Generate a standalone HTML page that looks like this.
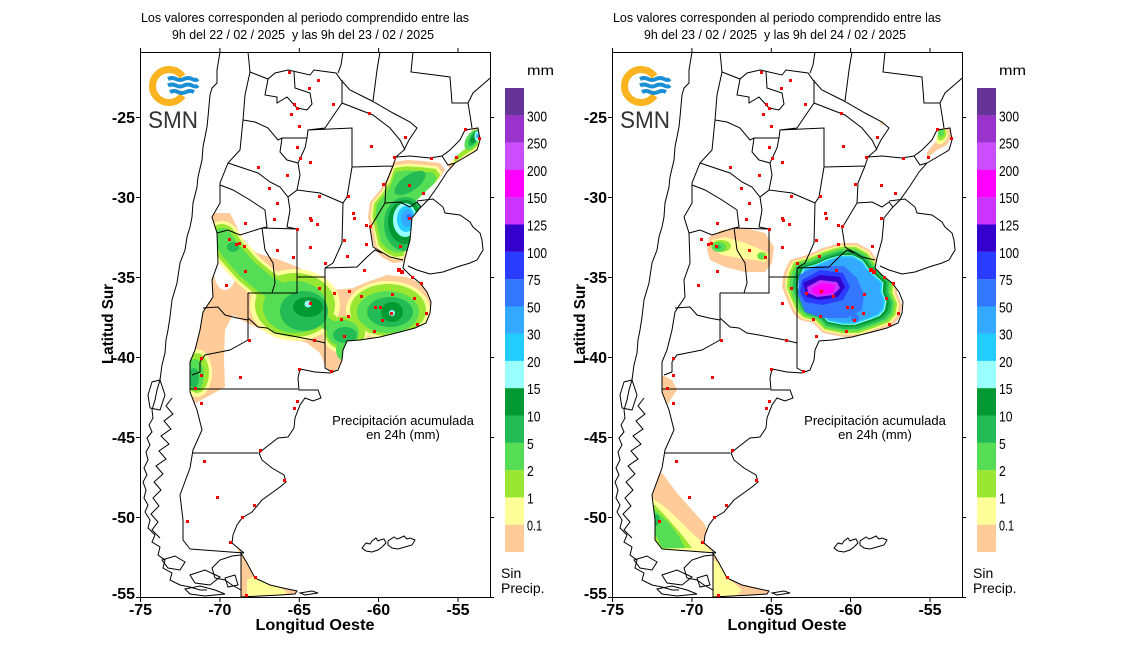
<!DOCTYPE html>
<html><head><meta charset="utf-8"><style>
html,body{margin:0;padding:0;background:#fff;}
svg{display:block;}
text{font-family:"Liberation Sans",Arial,sans-serif;}
</style></head><body>
<svg xmlns="http://www.w3.org/2000/svg" xmlns:xlink="http://www.w3.org/1999/xlink" width="1140" height="650" viewBox="0 0 1140 650">
<defs>
<clipPath id="arg">
<path d="M250,72 L268,79 275,73 288,70 297,72 310,75 314,70 336,73 341,80 350,90 372,101 393,113 410,122 417,128 409,140 404,150 396,157 410,156 430,158 442,156 450,150 460,140 465,130 478,128 480,140 477,150 467,156 455,163 447,172 438,186 428,200 420,208 412,218 410,240 405,258 403,268 410,275 420,283 427,292 431,302 430,313 426,323 415,328 400,332 380,337 360,340 347,341 343,350 342,360 338,370 330,373 315,372 300,369 298,378 299,390 310,390 318,390 321,398 313,401 305,398 300,405 295,418 294,428 288,437 278,438 265,448 259,453 262,460 272,468 284,475 286,482 280,487 262,500 257,506 252,512 242,518 237,525 233,535 232,543 238,548 244,553 190,549 183,540 183,520 180,495 190,468 193,450 202,430 197,410 190,392 190,362 195,350 200,330 203,312 213,297 212,280 218,263 217,233 212,217 220,203 220,183 228,163 240,150 243,120 245,95 Z M241,553 L247,563 255,578 270,585 283,588 297,591 295,594 280,595 260,596 241,597 Z"/>
</clipPath>
<polygon id="pNE" points="393,162 407,160 423,161 440,163 445,170 440,178 430,187 420,197 413,203 412,217 410,237 407,250 403,262 393,263 383,258 375,250 372,237 368,217 370,202 380,190 388,177"/>
<polygon id="pMis" points="448,165 455,158 465,150 470,140 472,128 480,127 482,145 475,152 462,160 450,170"/>
<polygon id="pBA" points="313,270 318,260 335,255 351,248 368,243 385,243 398,250 405,260 415,270 426,280 425,293 430,305 428,317 421,325 408,330 388,337 371,337 351,333 341,323 328,320 321,313 315,300 310,287 311,277"/>
<path id="corr" d="M222,238 L232,252 L248,270 L266,285 L290,298" fill="none" stroke-linecap="round" stroke-linejoin="round"/>

<g id="base">
<g fill="none" stroke="#000" stroke-width="1">
<path d="M250,72 L268,79 275,73 288,70 297,72 310,75 314,70 336,73 341,80 350,90 372,101 393,113 410,122 417,128 409,140 404,150 396,157 410,156 430,158 442,156 450,150 460,140 465,130 478,128 480,140 477,150 467,156 455,163 447,172 438,186 428,200 420,208 412,218 410,240 405,258 403,268 410,275 420,283 427,292 431,302 430,313 426,323 415,328 400,332 380,337 360,340 347,341 343,350 342,360 338,370 330,373 315,372 300,369 298,378 299,390 310,390 318,390 321,398 313,401 305,398 300,405 295,418 294,428 288,437 278,438 265,448 259,453 262,460 272,468 284,475 286,482 280,487 262,500 257,506 252,512 242,518 237,525 233,535 232,543 238,548 244,553 M190,549 L183,540 183,520 180,495 190,468 193,450 202,430 197,410 190,392 190,362 195,350 200,330 203,312 213,297 212,280 218,263 217,233 212,217 220,203 220,183 228,163 240,150 243,120 245,95 250,72 M244,553 L190,549 M241,553 L247,563 255,578 270,585 283,588 297,591 295,594 280,595 260,596 241,597 Z"/>
<path d="M268,79 L265,95 277,97 277,103 287,97 297,108 307,110 312,104 310,93 295,88 294,72 M243,120 L255,122 268,128 278,140 282,138 307,138 308,130 325,128 342,103 342,80 M308,130 L352,128 352,167 M282,138 L280,152 287,160 298,163 305,148 307,138 M298,163 L300,175 297,190 320,193 343,203 M342,103 L373,115 390,128 400,140 405,150 M352,167 L393,166 M352,167 L347,197 343,203 342,243 333,263 325,268 M396,157 L393,166 386,183 385,203 373,223 370,228 373,247 390,257 403,260 M385,203 L400,202 410,207 417,202 421,207 M442,156 L448,165 455,163 M325,268 L357,267 367,257 375,250 382,253 M228,163 L243,168 258,173 270,182 280,187 288,197 297,190 M288,197 L290,210 287,227 297,229 M220,185 L233,190 250,200 265,210 267,227 262,228 M217,233 L228,230 240,235 262,228 297,229 297,293 248,293 M262,228 L265,250 273,263 275,283 272,293 M297,277 L325,277 M325,268 L325,368 332,372 M248,293 L248,340 M203,308 L218,307 225,315 237,318 248,320 M248,318 L258,327 267,328 275,333 287,335 313,340 325,343 M248,340 L230,350 220,352 205,355 200,362 200,372 192,375 M190,389 L298,389 M193,453 L258,453 M241,553 L241,597"/>
<path d="M248,52 L250,72 M343,52 L341,65 338,73 M380,52 L377,70 373,101 M413,52 L411,72 427,74 450,77 452,103 468,103 473,93 488,80 490,78 M468,103 L470,115 472,128 M417,201 L433,199 443,207 445,213 460,215 470,222 473,227 480,233 482,240 483,250 477,260 470,263 457,267 443,272 430,274 417,270 408,266"/>
<path d="M220,52 L217,70 217,83 212,88 210,95 208,117 207,127 203,147 202,160 198,177 197,187 193,203 192,217 190,227 187,237 185,250 180,263 177,283 172,300 170,317 168,330 166,340 165,353 162,365 160,380 157,390 155,400 152,410 153,418 149,425 152,432 147,438 150,445 146,452 148,460 144,468 147,475 143,482 146,490 144,498 148,505 145,512 150,520 148,528 155,535 152,542 160,547 158,555 165,560 163,568 172,573 170,580 180,585 190,587 200,590 207,590"/>
<path d="M172,398 L166,406 173,414 164,421 171,429 161,436 169,444 159,451 166,459 156,466 163,474 154,482 161,490 153,498 159,506 151,514 158,522 152,530 160,538 M152,382 L160,380 165,395 160,410 150,408 148,395 Z M162,560 L175,556 185,562 180,570 168,568 Z M190,575 L205,570 220,577 210,585 195,583 Z M185,589 L200,586 215,590 225,594 205,596 190,594 Z M225,578 L235,575 238,585 228,587 Z M241,555 L232,556 220,560 212,568 215,578 225,580 232,585 241,590 M300,593 L312,591 318,593 305,595 Z"/>
<path d="M362,548 L366,543 370,544 372,541 376,538 378,541 380,540 384,539 386,543 382,547 378,550 372,552 366,551 Z M388,541 L394,537 397,539 400,538 404,536 407,539 410,538 415,540 412,545 405,547 398,549 392,548 388,545 Z"/>
</g>
<path fill="#f00" d="M288,71h3v3h-3z M317,79h3v3h-3z M308,87h3v3h-3z M293,103h3v3h-3z M296,107h3v3h-3z M332,103h3v3h-3z M290,113h3v3h-3z M298,125h3v3h-3z M368,112h3v3h-3z M404,136h3v3h-3z M370,145h3v3h-3z M296,146h3v3h-3z M393,156h3v3h-3z M430,157h3v3h-3z M455,156h3v3h-3z M464,128h3v3h-3z M478,137h3v3h-3z M299,157h3v3h-3z M309,161h3v3h-3z M257,166h3v3h-3z M286,174h3v3h-3z M268,187h3v3h-3z M276,202h3v3h-3z M318,195h3v3h-3z M347,195h3v3h-3z M382,183h3v3h-3z M408,184h3v3h-3z M422,192h3v3h-3z M352,212h3v3h-3z M353,217h3v3h-3z M309,217h3v3h-3z M310,219h3v3h-3z M316,223h3v3h-3z M273,218h3v3h-3z M244,222h3v3h-3z M296,228h3v3h-3z M369,225h3v3h-3z M365,224h3v3h-3z M408,217h3v3h-3z M235,243h3v3h-3z M238,242h3v3h-3z M228,238h3v3h-3z M243,245h3v3h-3z M276,249h3v3h-3z M309,246h3v3h-3z M343,239h3v3h-3z M365,243h3v3h-3z M399,245h3v3h-3z M292,256h3v3h-3z M324,262h3v3h-3z M346,255h3v3h-3z M363,269h3v3h-3z M397,268h4v4h-4z M400,270h4v4h-4z M411,276h3v3h-3z M420,282h3v3h-3z M244,270h3v3h-3z M225,284h3v3h-3z M318,287h3v3h-3z M333,292h3v3h-3z M348,290h3v3h-3z M360,295h3v3h-3z M391,293h3v3h-3z M413,297h3v3h-3z M309,302h3v3h-3z M374,306h3v3h-3z M379,306h3v3h-3z M390,312h3v3h-3z M381,319h3v3h-3z M340,318h3v3h-3z M347,315h3v3h-3z M425,312h3v3h-3z M416,323h3v3h-3z M373,330h3v3h-3z M343,335h3v3h-3z M313,339h3v3h-3z M248,339h3v3h-3z M200,357h3v3h-3z M200,374h3v3h-3z M194,387h3v3h-3z M200,402h3v3h-3z M239,376h3v3h-3z M298,368h3v3h-3z M330,370h3v3h-3z M296,400h3v3h-3z M293,407h3v3h-3z M259,449h3v3h-3z M203,460h3v3h-3z M283,479h3v3h-3z M216,496h3v3h-3z M253,504h3v3h-3z M241,516h3v3h-3z M186,520h3v3h-3z M229,541h3v3h-3z M254,576h3v3h-3z M245,594h3v3h-3z"/>
</g>

<g id="panel">
<rect x="140.5" y="52.5" width="350" height="545" fill="none" stroke="#000" stroke-width="1"/>
<path stroke="#000" stroke-width="1" fill="none" d="M136,117.5h4 M136,197.5h4 M136,277.5h4 M136,357.5h4 M136,437.5h4 M136,517.5h4 M136,597.5h4 M490,117.5h4 M490,197.5h4 M490,277.5h4 M490,357.5h4 M490,437.5h4 M490,517.5h4 M490,597.5h4 M140.5,597v5 M219.9,597v5 M299.3,597v5 M378.6,597v5 M458,597v5 M140.5,48v5 M219.9,48v5 M299.3,48v5 M378.6,48v5 M458,48v5"/>
<g font-size="16" font-weight="bold" fill="#000" text-anchor="end">
<text x="135" y="123">-25</text><text x="135" y="203">-30</text><text x="135" y="283">-35</text><text x="135" y="363">-40</text><text x="135" y="443">-45</text><text x="135" y="523">-50</text><text x="135" y="599">-55</text>
</g>
<g font-size="16" font-weight="bold" fill="#000" text-anchor="middle">
<text x="140.5" y="615">-75</text><text x="219.9" y="615">-70</text><text x="299.3" y="615">-65</text><text x="378.6" y="615">-60</text><text x="458" y="615">-55</text>
<text x="315" y="630" textLength="119" lengthAdjust="spacingAndGlyphs">Longitud Oeste</text>
<text transform="translate(113,324) rotate(-90)" textLength="80" lengthAdjust="spacingAndGlyphs">Latitud Sur</text>
</g>
<g font-size="13" fill="#000" text-anchor="middle">
<text x="403" y="425">Precipitación acumulada</text>
<text x="403" y="439">en 24h (mm)</text>
</g>
<path d="M182.5,76.5 A16.5 16.5 0 1 0 182.5,95.5" fill="none" stroke="#fbb320" stroke-width="7"/>
<g fill="none" stroke="#1a8fd4" stroke-width="4">
<path d="M168,79 q4,-2 8,0 t8,0 t8,0 t6,0"/>
<path d="M168,85.5 q4,-2 8,0 t8,0 t8,0 t6,0"/>
<path d="M170,92 q4,-2 8,0 t8,0 t8,0"/>
</g>
<text x="148" y="128" font-size="24" fill="#333" textLength="50" lengthAdjust="spacingAndGlyphs">SMN</text>
<g>
<rect x="505" y="88" width="19" height="27.4" fill="#663399"/>
<rect x="505" y="115.3" width="19" height="27.4" fill="#9933cc"/>
<rect x="505" y="142.6" width="19" height="27.4" fill="#cc4dff"/>
<rect x="505" y="169.9" width="19" height="27.4" fill="#ff00ff"/>
<rect x="505" y="197.2" width="19" height="27.4" fill="#cc33ff"/>
<rect x="505" y="224.5" width="19" height="27.4" fill="#3300cc"/>
<rect x="505" y="251.8" width="19" height="27.4" fill="#2a3cff"/>
<rect x="505" y="279.1" width="19" height="27.4" fill="#3377ff"/>
<rect x="505" y="306.4" width="19" height="27.4" fill="#33aaff"/>
<rect x="505" y="333.6" width="19" height="27.4" fill="#22ccff"/>
<rect x="505" y="360.9" width="19" height="27.4" fill="#99ffff"/>
<rect x="505" y="388.2" width="19" height="27.4" fill="#009933"/>
<rect x="505" y="415.5" width="19" height="27.4" fill="#22bb55"/>
<rect x="505" y="442.8" width="19" height="27.4" fill="#55dd55"/>
<rect x="505" y="470.1" width="19" height="27.4" fill="#99e633"/>
<rect x="505" y="497.4" width="19" height="27.4" fill="#ffff99"/>
<rect x="505" y="524.7" width="19" height="27.3" fill="#ffcc99"/>
</g>
<g font-size="15" fill="#000">
<text x="527" y="75" font-size="14" textLength="27" lengthAdjust="spacingAndGlyphs">mm</text>
<text x="527" y="121.3" textLength="20" lengthAdjust="spacingAndGlyphs">300</text>
<text x="527" y="148.6" textLength="20" lengthAdjust="spacingAndGlyphs">250</text>
<text x="527" y="175.9" textLength="20" lengthAdjust="spacingAndGlyphs">200</text>
<text x="527" y="203.2" textLength="20" lengthAdjust="spacingAndGlyphs">150</text>
<text x="527" y="230.5" textLength="20" lengthAdjust="spacingAndGlyphs">125</text>
<text x="527" y="257.8" textLength="20" lengthAdjust="spacingAndGlyphs">100</text>
<text x="527" y="285.1" textLength="13.5" lengthAdjust="spacingAndGlyphs">75</text>
<text x="527" y="312.4" textLength="13.5" lengthAdjust="spacingAndGlyphs">50</text>
<text x="527" y="339.6" textLength="13.5" lengthAdjust="spacingAndGlyphs">30</text>
<text x="527" y="366.9" textLength="13.5" lengthAdjust="spacingAndGlyphs">20</text>
<text x="527" y="394.2" textLength="13.5" lengthAdjust="spacingAndGlyphs">15</text>
<text x="527" y="421.5" textLength="13.5" lengthAdjust="spacingAndGlyphs">10</text>
<text x="527" y="448.8" textLength="6.7" lengthAdjust="spacingAndGlyphs">5</text>
<text x="527" y="476.1" textLength="6.7" lengthAdjust="spacingAndGlyphs">2</text>
<text x="527" y="503.4" textLength="6.7" lengthAdjust="spacingAndGlyphs">1</text>
<text x="527" y="530.7" textLength="15" lengthAdjust="spacingAndGlyphs">0.1</text>
<text x="501" y="578" font-size="14">Sin</text>
<text x="501" y="593" font-size="14">Precip.</text>
</g>
</g>
</defs>

<!-- Titles -->
<g font-size="12.5" fill="#000" text-anchor="middle">
<text x="305" y="22" textLength="328" lengthAdjust="spacingAndGlyphs">Los valores corresponden al periodo comprendido entre las</text>
<text x="303" y="39" textLength="262" lengthAdjust="spacingAndGlyphs">9h del 22 / 02 / 2025 &#160;y las 9h del 23 / 02 / 2025</text>
<text x="777" y="22" textLength="328" lengthAdjust="spacingAndGlyphs">Los valores corresponden al periodo comprendido entre las</text>
<text x="775" y="39" textLength="262" lengthAdjust="spacingAndGlyphs">9h del 23 / 02 / 2025 &#160;y las 9h del 24 / 02 / 2025</text>
</g>

<!-- LEFT PANEL BLOBS -->
<g clip-path="url(#arg)">
<g fill="#ffcc99">
<polygon points="213,213 230,213 237,227 242,243 257,253 280,260 300,268 310,280 320,288 333,290 353,288 367,282 387,275 407,277 420,283 430,297 433,313 427,327 413,333 387,337 360,340 347,350 343,363 333,373 327,370 320,353 307,343 287,337 267,332 247,323 233,315 225,330 224,360 225,387 207,397 188,407 185,395 190,360 195,345 200,310 210,283 212,260 211,235"/>
<use href="#pNE"/>
<use href="#pMis"/>
<rect x="238" y="548" width="62" height="50"/>
</g>
<g fill="#fff">
<ellipse cx="225" cy="272" rx="11" ry="18"/>
<ellipse cx="380" cy="331" rx="9" ry="6"/>
</g>
<g fill="#ffff99">
<use href="#corr" stroke="#ffff99" stroke-width="34"/>
<ellipse cx="295" cy="305" rx="45" ry="36"/>
<ellipse cx="388" cy="310" rx="42" ry="29"/>
<ellipse cx="345" cy="335" rx="22" ry="19"/>
<use href="#pNE" transform="translate(405 212) scale(0.93) translate(-405 -212)"/>
<use href="#pMis" transform="translate(467 145) scale(0.85) translate(-467 -145)"/>
<ellipse cx="197" cy="373" rx="15" ry="24"/>
<polygon points="247,580 257,575 267,580 287,592 282,598 247,598"/>
</g>
<g fill="#99e633">
<use href="#corr" stroke="#99e633" stroke-width="28"/>
<ellipse cx="295" cy="305" rx="40" ry="32"/>
<ellipse cx="388" cy="310" rx="38" ry="26"/>
<ellipse cx="345" cy="333" rx="20" ry="17"/>
<path d="M325,318 L343,335" stroke="#99e633" stroke-width="18"/>
<use href="#pNE" transform="translate(405 212) scale(0.88) translate(-405 -212)"/>
<use href="#pMis" transform="translate(469 143) scale(0.72) translate(-469 -143)"/>
<ellipse cx="197" cy="373" rx="12" ry="20"/>
</g>
<g fill="#55dd55">
<use href="#corr" stroke="#55dd55" stroke-width="20"/>
<ellipse cx="295" cy="307" rx="32" ry="26"/>
<ellipse cx="388" cy="312" rx="31" ry="21"/>
<ellipse cx="343" cy="333" rx="16" ry="13"/>
<ellipse cx="343" cy="350" rx="7" ry="10"/>
<path d="M322,320 L340,333" stroke="#55dd55" stroke-width="12"/>
<use href="#pNE" transform="translate(405 212) scale(0.8) translate(-405 -212)"/>
<ellipse cx="472" cy="140" rx="6" ry="11" transform="rotate(30 472 140)"/>
<ellipse cx="195" cy="375" rx="9" ry="16"/>
</g>
<g fill="#22bb55">
<ellipse cx="304" cy="311" rx="24" ry="20"/>
<ellipse cx="390" cy="312" rx="23" ry="15"/>
<ellipse cx="345" cy="335" rx="12" ry="8"/>
<ellipse cx="233" cy="247" rx="6" ry="5"/>
<ellipse cx="410" cy="183" rx="18" ry="8" transform="rotate(-35 410 183)"/>
<ellipse cx="405" cy="224" rx="21" ry="27"/>
<ellipse cx="474" cy="138" rx="4" ry="9" transform="rotate(30 474 138)"/>
<ellipse cx="194" cy="378" rx="5" ry="10"/>
</g>
<g fill="#009933">
<ellipse cx="308" cy="307" rx="15" ry="10"/>
<ellipse cx="392" cy="312" rx="11" ry="10"/>
<ellipse cx="405" cy="222" rx="17" ry="22"/>
<ellipse cx="475" cy="137" rx="3" ry="7" transform="rotate(30 475 137)"/>
</g>
<g fill="#99ffff">
<circle cx="308" cy="304" r="3.5"/>
<circle cx="392" cy="313" r="3"/>
<ellipse cx="405" cy="220" rx="12" ry="17"/>
<ellipse cx="477" cy="136" rx="2.5" ry="5"/>
</g>
<ellipse cx="406" cy="219" rx="9" ry="13" fill="#22ccff"/>
<ellipse cx="407" cy="218" rx="6" ry="9" fill="#33aaff"/>
<circle cx="478" cy="136" r="2" fill="#33aaff"/>
<circle cx="409" cy="217" r="3" fill="#3377ff"/>
</g>
<use href="#base"/>
<use href="#panel"/>

<!-- RIGHT PANEL -->
<g transform="translate(472,0)">
<g clip-path="url(#arg)">
<g fill="#ffcc99">
<polygon points="237,237 250,230 273,228 293,233 302,247 300,263 293,272 273,272 253,267 238,260 235,250"/>
<use href="#pBA"/>
<polygon points="455,152 465,140 470,128 478,127 480,135 475,145 465,150 455,158"/>
<circle cx="411" cy="122" r="3"/>
<polygon points="190,375 200,380 205,390 195,405 187,402"/>
<polygon points="180,477 190,473 205,493 220,510 232,523 240,540 246,555 237,552 220,549 190,549 183,533 173,510 172,497"/>
<rect x="238" y="548" width="62" height="50"/>
</g>
<g fill="#ffff99">
<polygon points="240,240 253,237 273,243 290,250 298,255 293,262 283,260 267,258 250,255 242,250"/>
<use href="#pBA" transform="translate(370 290) scale(0.95) translate(-370 -290)"/>
<polygon points="172,500 180,498 193,507 207,520 220,533 230,542 240,552 190,549 172,549"/>
<polygon points="241,560 250,565 258,580 270,590 262,598 241,598"/>
<ellipse cx="470" cy="137" rx="5" ry="8" transform="rotate(30 470 137)"/>
</g>
<g fill="#99e633">
<ellipse cx="249" cy="246" rx="10" ry="6"/>
<ellipse cx="290" cy="256" rx="5" ry="4"/>
<use href="#pBA" transform="translate(370 290) scale(0.92) translate(-370 -290)"/>
<polygon points="172,505 183,505 197,520 210,535 220,548 172,549"/>
<ellipse cx="470" cy="135" rx="4" ry="6" transform="rotate(30 470 135)"/>
</g>
<g fill="#55dd55">
<ellipse cx="247" cy="247" rx="7" ry="5"/>
<circle cx="289" cy="256" r="3"/>
<use href="#pBA" transform="translate(370 290) scale(0.88) translate(-370 -290)"/>
<polygon points="172,507 183,510 197,523 208,538 213,548 190,548 185,537 172,527"/>
<ellipse cx="469" cy="133" rx="3" ry="4"/>
</g>
<g fill="#22bb55">
<ellipse cx="246" cy="247" rx="3" ry="2"/>
<ellipse cx="183" cy="520" rx="5" ry="6"/>
<use href="#pBA" transform="translate(372 290) scale(0.83) translate(-372 -290)"/>
</g>
<use href="#pBA" fill="#009933" transform="translate(372 290) scale(0.78) translate(-372 -290)"/>
<use href="#pBA" fill="#99ffff" transform="translate(370 290) scale(0.74) translate(-370 -290)"/>
<use href="#pBA" fill="#22ccff" transform="translate(370 290) scale(0.72) translate(-370 -290)"/>
<use href="#pBA" fill="#33aaff" transform="translate(369 290) scale(0.69) translate(-369 -290)"/>
<polygon fill="#3377ff" points="327,275 345,266 372,266 385,278 392,295 390,310 375,318 350,318 333,312 326,295"/>
<circle cx="383" cy="318" r="4" fill="#3377ff"/>
<polygon fill="#2a3cff" points="330,280 348,270 371,273 378,287 371,300 351,305 333,302 328,292"/>
<polygon fill="#3300cc" points="331,283 348,275 368,277 373,287 366,297 348,300 335,297"/>
<polygon fill="#cc33ff" points="335,287 348,280 365,282 368,288 361,295 345,297 336,293"/>
<polygon fill="#ff00ff" points="340,288 351,283 363,285 361,293 348,295 341,293"/>
</g>
<use href="#base"/>
<use href="#panel"/>
</g>
</svg>
</body></html>
